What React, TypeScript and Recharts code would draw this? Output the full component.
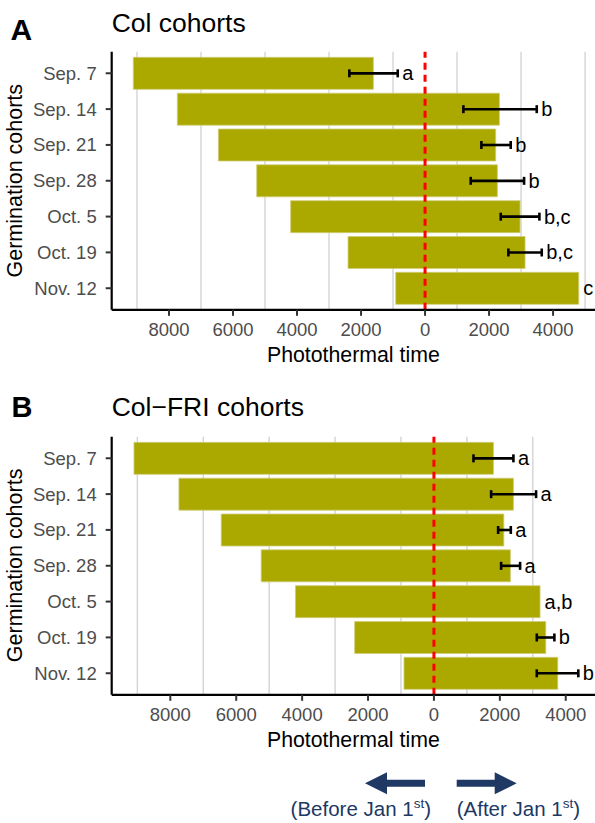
import { ComposedChart, Bar, XAxis, YAxis, ReferenceLine, ErrorBar, LabelList } from 'recharts'

const cohorts = ['Sep. 7', 'Sep. 14', 'Sep. 21', 'Sep. 28', 'Oct. 5', 'Oct. 19', 'Nov. 12']

// Col: photothermal time from germination (negative = before Jan 1st) to bolting
const colStart = [-9115, -7740, -6458, -5260, -4198, -2406, -917]
const colEnd = [-1615, 2323, 2208, 2260, 2969, 3125, 4802]
const colErrLow = [-2365, 1198, 1760, 1427, 2365, 2604, null]
const colErrHigh = [-853, 3490, 2677, 3094, 3573, 3646, null]
const colGroups = ['a', 'b', 'b', 'b', 'b,c', 'b,c', 'c']

// Col-FRI
const friStart = [-9103, -7739, -6455, -5242, -4203, -2406, -909]
const friEnd = [1806, 2412, 2121, 2321, 3221, 3394, 3758]
const friErrLow = [1200, 1736, 1948, 2039, null, 3121, 3121]
const friErrHigh = [2412, 3100, 2333, 2615, null, 3655, 4382]
const friGroups = ['a', 'a', 'a', 'a', 'a,b', 'b', 'b']

const xTicks = [-8000, -6000, -4000, -2000, 0, 2000, 4000]
const gridAt = [-9000, -7000, -5000, -3000, -1000, 1000, 3000, 5000]

const FONT = '"Liberation Sans", Arial, sans-serif'
const BAR = '#aba800'
const NAVY = '#203864'

type Row = {
  cohort: string
  range: [number, number]
  err: [number, number] | null
  hi: number | null
  group: string
}

function buildRows(start: number[], end: number[], lo: (number | null)[], hi: (number | null)[], groups: string[]): Row[] {
  return cohorts.map((c, i) => ({
    cohort: c,
    range: [start[i], end[i]],
    err: lo[i] != null && hi[i] != null ? [end[i] - (lo[i] as number), (hi[i] as number) - end[i]] : null,
    hi: hi[i],
    group: groups[i],
  }))
}

const colRows = buildRows(colStart, colEnd, colErrLow, colErrHigh, colGroups)
const friRows = buildRows(friStart, friEnd, friErrLow, friErrHigh, friGroups)

// letter placed just past the error bar (or the bar end when there is none)
function groupLabel(rows: Row[]) {
  return (props: any) => {
    const vb = props.viewBox ?? props
    const { x, y, width, height } = vb
    const r = rows[props.index]
    if (!r || width == null) return null
    const perUnit = width / (r.range[1] - r.range[0])
    const reach = r.hi != null ? Math.max(r.hi, r.range[1]) : r.range[1]
    const lx = x + (reach - r.range[0]) * perUnit + 4.5
    return (
      <text x={lx} y={y + height / 2 + 7} fontSize={20} fill="#000" fontFamily={FONT}>
        {r.group}
      </text>
    )
  }
}

function Panel({ rows, domain }: { rows: Row[]; domain: [number, number] }) {
  return (
    <ComposedChart
      width={595}
      height={370}
      data={rows}
      layout="vertical"
      margin={{ top: 51.7, right: 0, bottom: 0, left: 0 }}
    >
      {gridAt.map((g) => (
        <ReferenceLine key={g} x={g} stroke="#d4d4d4" strokeWidth={1.4} zIndex={-50} />
      ))}
      <XAxis
        type="number"
        domain={domain}
        allowDataOverflow
        ticks={xTicks}
        tickFormatter={(v: number) => String(Math.abs(v))}
        height={60.2}
        tickSize={6}
        tickMargin={7}
        axisLine={{ stroke: '#000', strokeWidth: 2.2 }}
        tickLine={{ stroke: '#333', strokeWidth: 2 }}
        tick={{ fontSize: 18.5, fill: '#4d4d4d' }}
        label={{ value: 'Photothermal time', position: 'insideBottom', offset: 8.5, fill: '#000', fontSize: 21.3 }}
      />
      <YAxis
        type="category"
        dataKey="cohort"
        width={111.7}
        padding={{ top: 3.65, bottom: 3.65 }}
        tickSize={6}
        tickMargin={9}
        axisLine={{ stroke: '#000', strokeWidth: 2.2 }}
        tickLine={{ stroke: '#333', strokeWidth: 2 }}
        tick={{ fontSize: 18.5, fill: '#4d4d4d' }}
      />
      <Bar dataKey="range" fill={BAR} stroke="#cfcd78" strokeWidth={0.8} barSize={32} isAnimationActive={false}>
        <ErrorBar dataKey="err" direction="x" width={4} stroke="#000" strokeWidth={2.6} isAnimationActive={false} />
        <LabelList dataKey="group" content={groupLabel(rows)} />
      </Bar>
      <ReferenceLine x={0} stroke="#ff0000" strokeWidth={3} strokeDasharray="7 5" />
    </ComposedChart>
  )
}

export default function App() {
  return (
    <div style={{ position: 'absolute', left: 0, top: 0, width: 595, height: 823, fontFamily: FONT, background: '#fff' }}>
      <div style={{ position: 'absolute', left: 0, top: 0 }}>
        <Panel rows={colRows} domain={[-9790, 5310]} />
      </div>
      <div style={{ position: 'absolute', left: 0, top: 384.7 }}>
        <Panel rows={friRows} domain={[-9779, 4888]} />
      </div>
      <svg width={595} height={823} style={{ position: 'absolute', left: 0, top: 0, pointerEvents: 'none' }} fontFamily={FONT}>
        <text x={10.5} y={39.5} fontSize={30} fontWeight="bold">A</text>
        <text x={111.7} y={31.5} fontSize={26.5}>Col cohorts</text>
        <text transform="translate(22,180.7) rotate(-90)" textAnchor="middle" fontSize={21.5}>Germination cohorts</text>

        <text x={11.5} y={416.7} fontSize={29} fontWeight="bold">B</text>
        <text x={111.7} y={415.7} fontSize={26.5}>Col−FRI cohorts</text>
        <text transform="translate(22,565.4) rotate(-90)" textAnchor="middle" fontSize={21.5}>Germination cohorts</text>

        <path d="M365,783.3 L387,772.3 L387,779.8 L425,779.8 L425,786.8 L387,786.8 L387,794.3 Z" fill={NAVY} />
        <path d="M516.7,783.3 L494.7,772.3 L494.7,779.8 L456.7,779.8 L456.7,786.8 L494.7,786.8 L494.7,794.3 Z" fill={NAVY} />
        <text x={431} y={816} fontSize={20.5} fill={NAVY} textAnchor="end">
          (Before Jan 1<tspan fontSize={13.5} dy={-8}>st</tspan><tspan dy={8}>)</tspan>
        </text>
        <text x={456.7} y={816} fontSize={20.5} fill={NAVY}>
          (After Jan 1<tspan fontSize={13.5} dy={-8}>st</tspan><tspan dy={8}>)</tspan>
        </text>
      </svg>
    </div>
  )
}
